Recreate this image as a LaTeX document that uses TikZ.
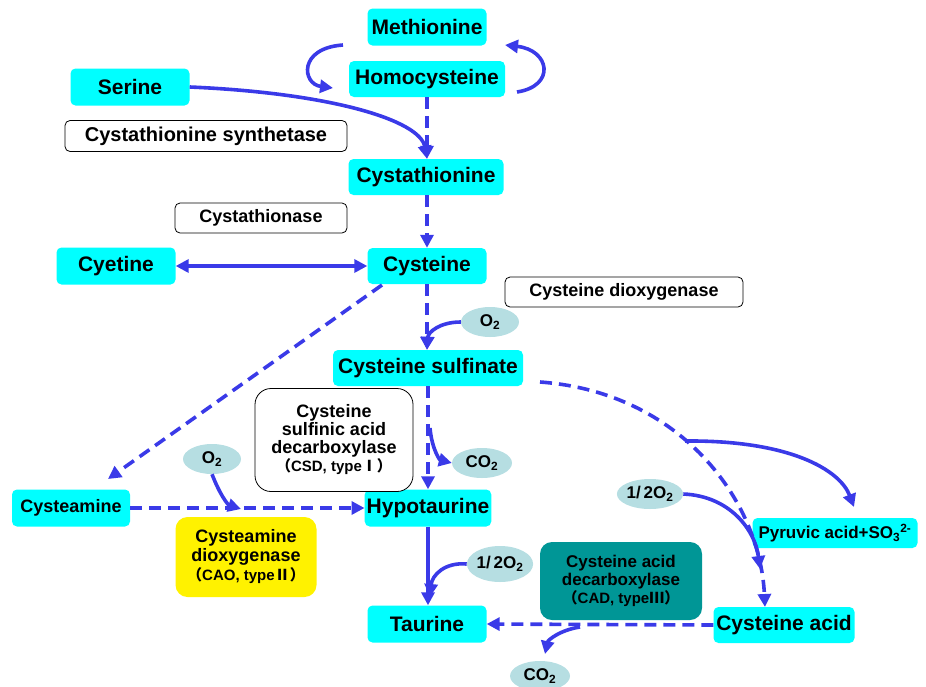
\documentclass[tikz,border=0pt]{standalone}
\usepackage{fontspec}
\setmainfont{Liberation Sans}
\newfontfamily\cjk{Noto Sans CJK SC}
\usetikzlibrary{arrows.meta,shapes.geometric}
\definecolor{ablue}{RGB}{58,58,232}
\definecolor{gasc}{RGB}{182,222,226}
\definecolor{tealc}{RGB}{0,150,150}
\definecolor{cyanc}{RGB}{0,255,255}
\newcommand\tsb[1]{\textsubscript{#1}}
\newcommand\fs[1]{\fontsize{#1}{#1}\selectfont\bfseries}
\tikzset{
  mol/.style={fill=cyanc, rounded corners=5pt, inner sep=2pt, font=\fs{21}, text=black},
  enz/.style={draw=black, line width=0.8pt, fill=white, rounded corners=5pt, inner sep=2pt, font=\fs{19}},
  gas/.style={ellipse, fill=gasc, inner sep=0pt, font=\fs{17}},
  arr/.style={draw=ablue, line width=3.6pt, -{Triangle[length=13pt,width=13pt]}},
  dsh/.style={dash pattern=on 12pt off 7pt},
}
\begin{document}
\begin{tikzpicture}[x=1pt,y=-1pt]
\useasboundingbox (0,0) rectangle (926,686);
% molecules
\node[mol,minimum width=119,minimum height=37] (met) at (427,27) {Methionine};
\node[mol,minimum width=156,minimum height=36] (hom) at (427,79) {Homocysteine};
\node[mol,minimum width=119,minimum height=37] (ser) at (130,87) {Serine};
\node[mol,minimum width=155,minimum height=36] (cyst) at (426,177) {Cystathionine};
\node[mol,minimum width=119,minimum height=37] (cyet) at (116,266) {Cyetine};
\node[mol,minimum width=119,minimum height=36] (cys) at (427,266) {Cysteine};
\node[mol,minimum width=190,minimum height=36] (csulf) at (428,368) {Cysteine sulfinate};
\node[mol,minimum width=118,minimum height=37,font=\fs{18}] (cysa) at (71,508) {Cysteamine};
\node[mol,minimum width=125,minimum height=37] (hypo) at (428,508) {Hypotaurine};
\node[mol,minimum width=165,minimum height=30,font=\fs{17}] (pyr) at (835,533) {Pyruvic acid+SO\tsb{3}\textsuperscript{2-}};
\node[mol,minimum width=119,minimum height=37] (taur) at (427,624) {Taurine};
\node[mol,minimum width=141,minimum height=36] (cacid) at (784,625) {Cysteine acid};
% enzymes
\node[enz,minimum width=282,minimum height=31,font=\fs{20}] (cbs) at (206,136) {Cystathionine synthetase};
\node[enz,minimum width=172,minimum height=30,font=\fs{18}] (cth) at (261,218) {Cystathionase};
\node[enz,minimum width=238,minimum height=30,font=\fs{18}] (cdo) at (624,292) {Cysteine dioxygenase};
\node[enz,minimum width=158,minimum height=103,rounded corners=16pt,align=center,font=\fs{18}] (csd) at (334,440)
  {Cysteine\\[0pt]sulfinic acid\\[0pt]decarboxylase\\[0pt]{\fs{15}{\cjk （}CSD, type{\cjk Ⅰ}{\cjk ）}}};
\node[fill=yellow,rounded corners=12pt,minimum width=141,minimum height=80,align=center,font=\fs{18}] (cao) at (246,557)
  {Cysteamine\\[1pt]dioxygenase\\[1pt]{\fs{15}{\cjk （}CAO, type{\cjk Ⅱ}{\cjk ）}}};
\node[fill=tealc,rounded corners=12pt,minimum width=162,minimum height=78,align=center,font=\fs{17}] (cad) at (621,581)
  {Cysteine acid\\[1pt]decarboxylase\\[1pt]{\fs{15}{\cjk （}CAD, type{\cjk Ⅲ}{\cjk ）}}};
% gases
\node[gas,minimum width=58,minimum height=30] (o2a) at (490,322) {O\tsb{2}};
\node[gas,minimum width=60,minimum height=30] (co2a) at (482,463) {CO\tsb{2}};
\node[gas,minimum width=58,minimum height=30] (o2b) at (212,459) {O\tsb{2}};
\node[gas,minimum width=62,minimum height=30] (o2c) at (650,494) {1/\,2O\tsb{2}};
\node[gas,minimum width=64,minimum height=36] (o2d) at (500,564) {1/\,2O\tsb{2}};
\node[gas,minimum width=60,minimum height=30] (co2b) at (540,676) {CO\tsb{2}};
% free ends
\coordinate (mL) at (343,45);
\coordinate (hL) at (333,88);
\coordinate (hR) at (517,92);
\coordinate (mR) at (505,45);
\coordinate (cysSW) at (382,285);
\coordinate (cyaT) at (108,479);
\coordinate (b1) at (430,428);
\coordinate (j1) at (241,509);
\coordinate (cs1) at (540,382);
\coordinate (caT) at (765,607);
\coordinate (br) at (685,441);
\coordinate (pyT) at (854,507);
\coordinate (j2) at (760,569);
\coordinate (j3) at (430,597);
\coordinate (b2) at (580,627);
\coordinate (co2T) at (545,654);
% connectors
\draw[arr] (mL) .. controls (298,48) and (302,84) .. (hL);
\draw[arr] (hR) .. controls (556,86) and (550,50) .. (mR);
\draw[arr,dsh] (hom.south) -- (cyst.north -| hom.south);
\draw[arr] (ser.east) .. controls (330,93) and (420,120) .. (cyst.north -| hom.south);
\draw[arr,dsh] (cyst.south -| cys.north) -- (cys.north);
\draw[arr,{Triangle[length=13pt,width=13pt]}-{Triangle[length=13pt,width=13pt]}] (cyet.east) -- (cys.west);
\draw[arr,dsh] (cys.south) -- (csulf.north -| cys.south);
\draw[arr] (o2a.west) .. controls (440,322) and (428,332) .. (csulf.north -| cys.south);
\draw[arr,dsh] (cysSW) -- (cyaT);
\draw[arr,dsh] (csulf.south -| hypo.north) -- (hypo.north);
\draw[arr] (b1) .. controls (432,450) and (440,460) .. (co2a.west);
\draw[arr,dsh] (cysa.east) -- (hypo.west);
\draw[arr] (o2b.south) .. controls (220,495) and (228,505) .. (j1);
\draw[arr,dsh] (cs1) .. controls (680,392) and (760,500) .. (caT);
\draw[arr] (br) .. controls (790,440) and (840,470) .. (pyT);
\draw[arr] (o2c.east) .. controls (730,496) and (755,530) .. (j2);
\draw[arr] (hypo.south) -- (taur.north -| hypo.south);
\draw[arr] (o2d.west) .. controls (445,562) and (432,575) .. (j3);
\draw[arr,dsh] (cacid.west) -- (taur.east);
\draw[arr] (b2) .. controls (560,630) and (548,640) .. (co2T);
\end{tikzpicture}
\end{document}
